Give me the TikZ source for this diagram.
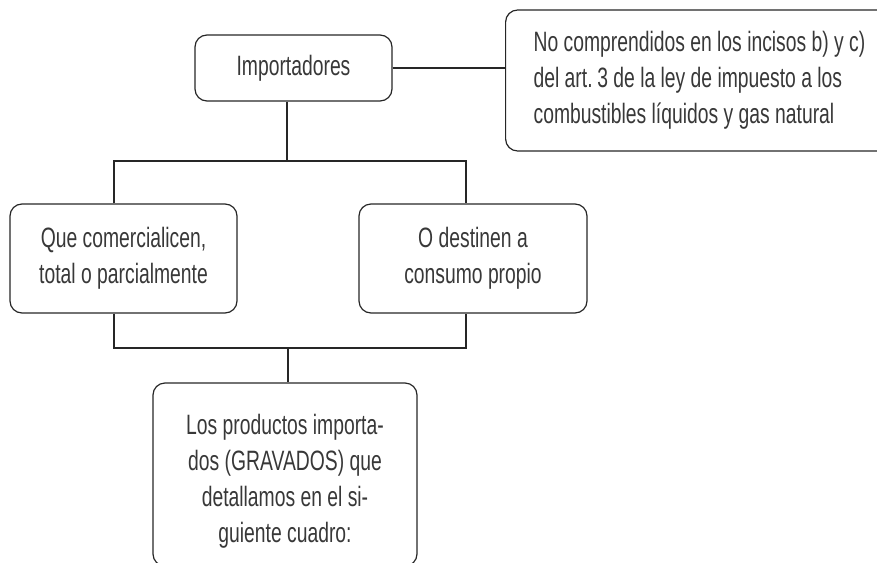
\documentclass[tikz,border=0pt]{standalone}
\usepackage{fontspec}
\setmainfont{Liberation Sans}[FakeStretch=0.69]
\begin{document}
\begin{tikzpicture}[x=1pt,y=-1pt,
  box/.style={draw=black!85, line width=1.2pt, rounded corners=12pt, inner sep=0pt,
    align=center, text=black!78, font=\fontsize{28}{36}\selectfont},
  link/.style={draw=black!85, line width=1.2pt}]
\useasboundingbox (0,0) rectangle (877,562);
\clip (0,0) rectangle (877,562);
\node[box, minimum width=197pt, minimum height=66pt] (imp) at (293.5,68) {Importadores};
\node[box, anchor=west, minimum width=420pt, minimum height=141pt, align=flush left,
  text width=364pt, inner xsep=28pt] (note) at (505,80.5)
  {No comprendidos en los incisos b) y c)\\del art.\,3 de la ley de impuesto a los\\combustibles líquidos y gas natural};
\node[box, minimum width=227pt, minimum height=109pt] (q) at (123.5,258.5)
  {Que comercialicen,\\total o parcialmente};
\node[box, minimum width=228pt, minimum height=109pt] (o) at (473,258.5)
  {O destinen a\\consumo propio};
\node[box, minimum width=264pt, minimum height=183pt] (l) at (285,474.5)
  {\rule{0pt}{33pt}Los productos importa-\\dos (GRAVADOS) que\\detallamos en el si-\\guiente cuadro:};
\coordinate (ja) at (287,161);
\coordinate (jl) at (114,161);
\coordinate (jr) at (466,161);
\coordinate (kl) at (114,348);
\coordinate (kr) at (466,348);
\coordinate (km) at (288,348);
\draw[link] (imp.east) -- (imp.east -| note.west);
\draw[link] (imp.south -| ja) -- (ja);
\draw[link] (q.north -| jl) -- (jl) -- (jr) -- (o.north -| jr);
\draw[link] (q.south -| kl) -- (kl) -- (kr) -- (o.south -| kr);
\draw[link] (km) -- (l.north -| km);
\end{tikzpicture}
\end{document}
